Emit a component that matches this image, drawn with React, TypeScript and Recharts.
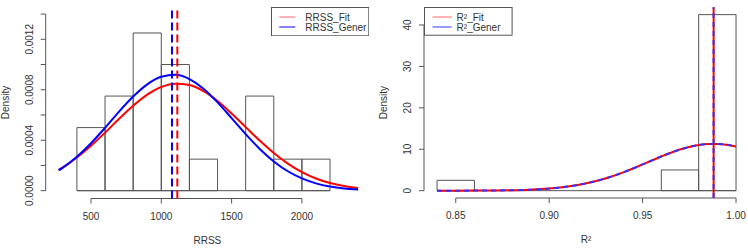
import React from 'react'
import { ComposedChart, Legend, Line, ReferenceArea, ReferenceLine, XAxis, YAxis } from 'recharts'

// Left panel: RRSS histogram (density) + fitted / generated density curves
const rrssBinEdges = [400, 600, 800, 1000, 1200, 1400, 1600, 1800, 2000, 2200]
const rrssBinDensity = [0.0005, 0.00075, 0.00125, 0.001, 0.00025, 0, 0.00075, 0.00025, 0.00025]
const rrssCurveX = [270, 300, 400, 500, 600, 700, 800, 900, 1000, 1100, 1200, 1300, 1400, 1500, 1600, 1700, 1800, 1900, 2000, 2100, 2200, 2300, 2400]
const rrssFit = [0.000166, 0.000185, 0.000263, 0.000356, 0.00046, 0.00057, 0.000673, 0.000761, 0.000822, 0.000848, 0.000837, 0.000789, 0.000711, 0.000612, 0.000504, 0.000397, 0.000298, 0.000214, 0.000147, 0.0000965, 0.0000606, 0.0000363, 0.0000208]
const rrssGener = [0.000161, 0.000183, 0.000269, 0.000376, 0.000498, 0.000627, 0.000746, 0.000843, 0.000903, 0.000918, 0.000885, 0.000808, 0.0007, 0.000575, 0.000448, 0.000331, 0.000232, 0.000154, 0.0000971, 0.0000581, 0.0000329, 0.0000177, 0.000009]
const rrssMeanFit = 1114
const rrssMeanGener = 1076
const rrssXTicks = [500, 1000, 1500, 2000]
const rrssYTicks = [0, 0.0002, 0.0004, 0.0006, 0.0008, 0.001, 0.0012, 0.0014]
const rrssYLabels = ['0.0000', '', '0.0004', '', '0.0008', '', '0.0012', '']

// Right panel: R² histogram (density) + curves
const r2BinEdges = [0.84, 0.86, 0.88, 0.9, 0.92, 0.94, 0.96, 0.98, 1.0]
const r2BinDensity = [2.5, 0, 0, 0, 0, 0, 5, 42.5]
const r2CurveX = [0.84, 0.85, 0.86, 0.87, 0.88, 0.89, 0.9, 0.91, 0.92, 0.93, 0.94, 0.95, 0.96, 0.97, 0.98, 0.985, 0.99, 0.995, 1.0]
const r2Fit = [0.002, 0.005, 0.016, 0.042, 0.105, 0.24, 0.505, 0.98, 1.77, 2.93, 4.48, 6.33, 8.25, 9.92, 11.01, 11.26, 11.28, 11.08, 10.67]
const r2Gener = [0.002, 0.005, 0.016, 0.042, 0.105, 0.24, 0.505, 0.98, 1.77, 2.93, 4.48, 6.33, 8.25, 9.92, 11.01, 11.26, 11.28, 11.08, 10.67]
const r2MeanFit = 0.988
const r2MeanGener = 0.988
const r2XTicks = [0.85, 0.9, 0.95, 1.0]
const r2YTicks = [0, 10, 20, 30, 40]
const r2YLabels = ['0', '10', '20', '30', '40']

const FONT = '"Liberation Sans", Arial, sans-serif'
const INK = '#555'
const TEXT = '#333'

const rrssCurve = rrssCurveX.map((x, i) => ({ x, fit: rrssFit[i], gener: rrssGener[i] }))
const r2Curve = r2CurveX.map((x, i) => ({ x, fit: r2Fit[i], gener: r2Gener[i] }))

function rotatedTick(labels: string[], ticks: number[]) {
  return (props: any) => {
    const { x, y, payload } = props
    const i = ticks.findIndex((t) => Math.abs(t - payload.value) < 1e-12)
    const text = labels[i]
    if (!text) return <g />
    return (
      <text
        x={x}
        y={y}
        transform={`rotate(-90 ${x} ${y})`}
        textAnchor="middle"
        fontSize={10}
        fontFamily={FONT}
        fill={TEXT}
      >
        {text}
      </text>
    )
  }
}

function xTitle(text: string) {
  return (props: any) => {
    const vb = props.viewBox
    return (
      <text x={vb.x + vb.width / 2} y={vb.y + 45} textAnchor="middle" fontSize={10} fontFamily={FONT} fill={TEXT}>
        {text}
      </text>
    )
  }
}

function yTitle(text: string) {
  return (props: any) => {
    const vb = props.viewBox
    const x = vb.x + vb.width - 37
    const y = vb.y + vb.height / 2
    return (
      <text x={x} y={y} transform={`rotate(-90 ${x} ${y})`} textAnchor="middle" fontSize={10} fontFamily={FONT} fill={TEXT}>
        {text}
      </text>
    )
  }
}

function legendBox(width: number, height: number, lineX1: number, lineX2: number, textX: number) {
  return (props: any) => {
    const items = props.payload || []
    return (
      <svg width={width} height={height} style={{ display: 'block' }}>
        <rect x={0.5} y={0.5} width={width - 1} height={height - 1} fill="#fff" stroke={INK} />
        {items.map((it: any, i: number) => (
          <g key={it.value}>
            <line x1={lineX1} x2={lineX2} y1={10 + 10 * i} y2={10 + 10 * i} stroke={it.color} strokeOpacity={0.5} strokeWidth={i === 0 ? 1.2 : 2} />
            <text x={textX} y={13.6 + 10 * i} fontSize={10} fontFamily={FONT} fill={TEXT}>
              {it.value}
            </text>
          </g>
        ))}
      </svg>
    )
  }
}

function RrssPanel() {
  const yMin = -0.000062
  return (
    <ComposedChart width={374} height={249} data={rrssCurve} margin={{ top: 6.5, right: 5, bottom: 0, left: 0 }}>
      <XAxis
        dataKey="x"
        type="number"
        domain={[178, 2477]}
        allowDataOverflow
        ticks={rrssXTicks}
        interval={0}
        axisLine={false}
        tickLine={{ stroke: INK }}
        tickSize={5}
        tickMargin={9}
        height={50.5}
        tick={{ fontSize: 10, fontFamily: FONT, fill: TEXT }}
        label={xTitle('RRSS')}
      />
      <YAxis
        type="number"
        domain={[yMin, 0.00146]}
        allowDataOverflow
        ticks={rrssYTicks}
        interval={0}
        axisLine={false}
        tickLine={{ stroke: INK }}
        tickSize={5}
        tickMargin={8}
        width={45.7}
        tick={rotatedTick(rrssYLabels, rrssYTicks)}
        label={yTitle('Density')}
      />
      {rrssBinDensity.map((d, i) =>
        d > 0 ? (
          <ReferenceArea
            key={i}
            x1={rrssBinEdges[i]}
            x2={rrssBinEdges[i + 1]}
            y1={0}
            y2={d}
            fill="none"
            fillOpacity={0}
            stroke={INK}
            strokeWidth={1}
            ifOverflow="visible"
          />
        ) : null
      )}
      <ReferenceLine
        segment={[{ x: rrssBinEdges[0], y: 0 }, { x: rrssBinEdges[rrssBinEdges.length - 1], y: 0 }]}
        stroke={INK}
        ifOverflow="visible"
      />
      <ReferenceLine segment={[{ x: 500, y: yMin }, { x: 2000, y: yMin }]} stroke={INK} ifOverflow="visible" />
      <ReferenceLine segment={[{ x: 178, y: 0 }, { x: 178, y: 0.0014 }]} stroke={INK} ifOverflow="visible" />
      <Line dataKey="fit" name="RRSS_Fit" type="monotone" stroke="#ff0000" strokeWidth={2} dot={false} isAnimationActive={false} />
      <Line dataKey="gener" name="RRSS_Gener" type="monotone" stroke="#0000ff" strokeWidth={2} dot={false} isAnimationActive={false} />
      <ReferenceLine x={rrssMeanGener} stroke="#0000ff" strokeWidth={2} strokeDasharray="8 4" />
      <ReferenceLine x={rrssMeanFit} stroke="#ff0000" strokeWidth={2} strokeDasharray="8 4" />
      <Legend
        layout="vertical"
        align="center"
        verticalAlign="middle"
        content={legendBox(98.3, 29.3, 8.3, 24.3, 34.3)}
        wrapperStyle={{ left: 270.7, top: 6.7, width: 98.3, height: 29.3 }}
      />
    </ComposedChart>
  )
}

function R2Panel() {
  const yMin = -1.77
  return (
    <ComposedChart width={374} height={249} data={r2Curve} margin={{ top: 7.3, right: 0, bottom: 0, left: 0 }}>
      <XAxis
        dataKey="x"
        type="number"
        domain={[0.833, 1.0064]}
        allowDataOverflow
        ticks={r2XTicks}
        interval={0}
        axisLine={false}
        tickLine={{ stroke: INK }}
        tickSize={5}
        tickMargin={9}
        height={51}
        tickFormatter={(v: number) => v.toFixed(2)}
        tick={{ fontSize: 10, fontFamily: FONT, fill: TEXT }}
        label={xTitle('R²')}
      />
      <YAxis
        type="number"
        domain={[yMin, 44.27]}
        allowDataOverflow
        ticks={r2YTicks}
        interval={0}
        axisLine={false}
        tickLine={{ stroke: INK }}
        tickSize={5}
        tickMargin={8}
        width={50}
        tick={rotatedTick(r2YLabels, r2YTicks)}
        label={yTitle('Density')}
      />
      {r2BinDensity.map((d, i) =>
        d > 0 ? (
          <ReferenceArea
            key={i}
            x1={r2BinEdges[i]}
            x2={r2BinEdges[i + 1]}
            y1={0}
            y2={d}
            fill="none"
            fillOpacity={0}
            stroke={INK}
            strokeWidth={1}
            ifOverflow="visible"
          />
        ) : null
      )}
      <ReferenceLine
        segment={[{ x: r2BinEdges[0], y: 0 }, { x: r2BinEdges[r2BinEdges.length - 1], y: 0 }]}
        stroke={INK}
        ifOverflow="visible"
      />
      <ReferenceLine segment={[{ x: 0.85, y: yMin }, { x: 1.0, y: yMin }]} stroke={INK} ifOverflow="visible" />
      <ReferenceLine segment={[{ x: 0.833, y: 0 }, { x: 0.833, y: 40 }]} stroke={INK} ifOverflow="visible" />
      <Line dataKey="fit" name="R²_Fit" type="monotone" stroke="#ff0000" strokeWidth={2} dot={false} isAnimationActive={false} />
      <Line dataKey="gener" name="R²_Gener" type="monotone" stroke="#3333ff" strokeWidth={2} strokeDasharray="5 4" dot={false} isAnimationActive={false} />
      <ReferenceLine x={r2MeanFit} stroke="#ff0000" strokeWidth={2} />
      <ReferenceLine x={r2MeanGener} stroke="#3333ff" strokeWidth={2} strokeDasharray="5 4" />
      <Legend
        layout="vertical"
        align="center"
        verticalAlign="middle"
        content={legendBox(88.6, 28.7, 8.6, 27.6, 32.6)}
        wrapperStyle={{ left: 50, top: 7.3, width: 88.6, height: 28.7 }}
      />
    </ComposedChart>
  )
}

export default function App() {
  return (
    <div style={{ position: 'absolute', left: 0, top: 0, width: 748, height: 249, display: 'flex', background: '#fff' }}>
      <RrssPanel />
      <R2Panel />
    </div>
  )
}
